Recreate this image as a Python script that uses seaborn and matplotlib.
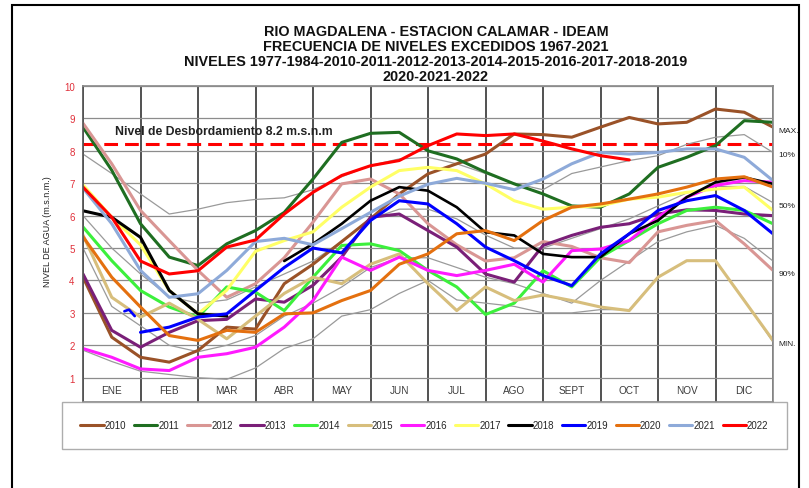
import numpy as np
import pandas as pd
import matplotlib
matplotlib.use('Agg')
import matplotlib.pyplot as plt
from matplotlib.patches import Rectangle
import seaborn as sns

# posicion en meses (0 = 1 de enero, 12 = 31 de diciembre), cada medio mes
meses_pos = np.arange(0, 12.5, 0.5)
meses = ['ENE', 'FEB', 'MAR', 'ABR', 'MAY', 'JUN', 'JUL', 'AGO', 'SEPT', 'OCT', 'NOV', 'DIC']
nan = np.nan

# niveles (m.s.n.m.)
n2010 = [4.1, 2.25, 1.63, 1.48, 1.84, 2.56, 2.5, 3.9, 4.5, 5.2, 5.9, 6.67, 7.29, 7.6, 7.9, 8.52, 8.5, 8.42, 8.73, 9.03, 8.83, 8.88, 9.29, 9.19, 8.73]
n2011 = [8.73, 7.4, 5.75, 4.72, 4.46, 5.13, 5.54, 6.1, 7.13, 8.26, 8.54, 8.57, 8.0, 7.75, 7.34, 6.98, 6.67, 6.3, 6.26, 6.67, 7.49, 7.8, 8.16, 8.93, 8.88]
n2012 = [8.85, 7.6, 6.16, 5.23, 4.31, 3.48, 3.9, 4.7, 5.8, 6.98, 7.13, 6.67, 5.75, 5.1, 4.6, 4.7, 5.2, 5.05, 4.7, 4.55, 5.5, 5.7, 5.85, 5.13, 4.31]
n2013 = [4.2, 2.46, 1.94, 2.4, 2.76, 2.8, 3.43, 3.33, 3.85, 4.72, 5.95, 6.05, 5.54, 5.03, 4.2, 3.95, 5.08, 5.39, 5.64, 5.75, 6.05, 6.18, 6.16, 6.05, 6.0]
n2014 = [5.65, 4.61, 3.69, 3.18, 2.87, 3.8, 3.64, 3.07, 4.1, 5.08, 5.13, 4.92, 4.31, 3.8, 2.95, 3.3, 4.3, 3.8, 4.72, 5.23, 5.75, 6.16, 6.26, 6.16, 5.75]
n2015 = [5.4, 3.48, 2.87, 3.3, 2.8, 2.2, 2.9, 3.6, 4.1, 3.9, 4.5, 4.82, 3.9, 3.07, 3.8, 3.38, 3.55, 3.38, 3.18, 3.07, 4.1, 4.61, 4.61, 3.38, 2.15]
n2016 = [1.9, 1.63, 1.27, 1.22, 1.63, 1.74, 1.94, 2.56, 3.38, 4.72, 4.31, 4.72, 4.31, 4.15, 4.31, 4.5, 3.95, 4.92, 4.97, 5.23, 5.95, 6.57, 6.93, 7.08, 7.03]
n2017 = [6.95, 5.95, 5.1, 3.69, 2.97, 3.7, 4.9, 5.23, 5.5, 6.26, 6.88, 7.39, 7.49, 7.39, 6.98, 6.46, 6.2, 6.26, 6.3, 6.51, 6.57, 6.72, 6.82, 6.88, 6.16]
n2018 = [6.15, 5.95, 5.33, 3.69, 2.97, 2.9, nan, 4.6, 5.13, 5.75, 6.46, 6.88, 6.77, 6.26, 5.49, 5.39, 4.82, 4.72, 4.72, 5.44, 5.85, 6.57, 7.03, 7.18, 6.98]
n2019 = [nan, nan, 2.4, 2.56, 2.87, 2.97, 3.69, 4.4, 5.0, 4.85, 5.85, 6.46, 6.36, 5.75, 5.03, 4.61, 4.15, 3.84, 4.82, 5.44, 6.16, 6.46, 6.62, 6.16, 5.44]
n2020 = [5.35, 4.1, 3.18, 2.3, 2.15, 2.46, 2.4, 2.97, 3.0, 3.38, 3.69, 4.5, 4.82, 5.44, 5.54, 5.23, 5.85, 6.26, 6.36, 6.51, 6.67, 6.88, 7.13, 7.2, 6.88]
n2021 = [6.85, 5.75, 4.31, 3.48, 3.59, 4.31, 5.2, 5.3, 5.1, 5.6, 6.1, 6.6, 6.97, 7.15, 7.0, 6.8, 7.13, 7.6, 7.95, 7.9, 7.95, 8.06, 8.06, 7.8, 7.08]
n2022 = [6.88, 5.95, 4.6, 4.2, 4.3, 5.03, 5.25, 6.05, 6.72, 7.24, 7.54, 7.7, 8.16, 8.52, 8.47, 8.52, 8.3, 8.06, 7.85, 7.72, nan, nan, nan, nan, nan]

# tramo corto de 2019 en enero
x2019_ene = [0.72, 0.8, 0.9]
n2019_ene = [3.05, 3.1, 2.9]

# curvas de frecuencia (grises)
p10 = [7.9, 7.3, 6.67, 6.05, 6.2, 6.4, 6.5, 6.55, 6.8, 7.2, 7.55, 7.75, 7.8, 7.6, 7.3, 7.0, 6.8, 7.3, 7.5, 7.7, 7.85, 8.2, 8.42, 8.5, 7.95]
p50 = [6.0, 5.0, 4.2, 3.5, 3.3, 3.4, 3.8, 4.2, 4.6, 5.2, 5.9, 6.2, 6.2, 5.9, 5.4, 5.0, 5.0, 5.3, 5.6, 5.9, 6.3, 6.7, 6.9, 6.9, 6.4]
p90 = [5.0, 3.2, 2.6, 2.0, 1.8, 2.0, 2.3, 2.9, 3.3, 3.8, 4.4, 4.7, 4.7, 4.4, 4.1, 3.9, 3.6, 3.3, 4.0, 4.6, 5.2, 5.5, 5.7, 5.3, 4.6]
pmin = [1.85, 1.5, 1.2, 1.1, 1.0, 0.95, 1.3, 1.9, 2.2, 2.9, 3.1, 3.6, 4.0, 3.4, 3.3, 3.2, 3.0, 3.0, 3.1, 3.1, 4.1, 4.6, 4.6, 3.4, 2.1]

anios = ['2010', '2011', '2012', '2013', '2014', '2015', '2016', '2017', '2018', '2019', '2020', '2021', '2022']
series = [n2010, n2011, n2012, n2013, n2014, n2015, n2016, n2017, n2018, n2019, n2020, n2021, n2022]
colores = ['#9A5228', '#1F6E21', '#D99694', '#7A1F78', '#3CF03C', '#D7BE7C', '#FF1AFF',
           '#FFFF66', '#000000', '#0000FF', '#E4700F', '#8EAAD9', '#FF0000']

etiquetas_der = ['MAX.', '10%', '50%', '90%', 'MIN.']
etiquetas_der_y = [8.62, 7.9, 6.3, 4.2, 2.05]


def plot_serie(ax, x, y, color, lw, label=None):
    df = pd.DataFrame({'mes': x, 'nivel': y})
    df['tramo'] = df['nivel'].isna().cumsum()
    df = df.dropna()
    for i, (k, g) in enumerate(df.groupby('tramo')):
        sns.lineplot(data=g, x='mes', y='nivel', color=color, lw=lw, ax=ax,
                     label=label if i == 0 else None, sort=False)


sns.set_theme(style='white')
plt.rcParams['font.family'] = ['Liberation Sans', 'DejaVu Sans']

fig = plt.figure(figsize=(8.09, 4.89), dpi=100)
ax = fig.add_axes([83 / 809, 1 - 403 / 489, 690 / 809, 316 / 489])

for p in [p10, p50, p90, pmin]:
    plot_serie(ax, meses_pos, p, '#9a9a9a', 0.9)

for anio, serie, c in zip(anios, series, colores):
    lw = 3.2 if anio == '2022' else 1.9
    plot_serie(ax, meses_pos, serie, c, lw, label=anio)
    if anio == '2019':
        plot_serie(ax, x2019_ene, n2019_ene, c, lw)

ax.axhline(8.2, color='#FF0000', lw=2.2, dashes=(4.5, 2.3), zorder=1.5)
ax.text(0.56, 8.6, 'Nivel de Desbordamiento 8.2 m.s.n.m', fontsize=8.8, fontweight='bold',
        color='#222222', va='center')

ax.set_xlim(0, 12)
ax.set_ylim(0.25, 10)
ax.set_xticks(range(13))
ax.set_xticklabels([])
ax.set_yticks(range(1, 11))
ax.tick_params(axis='both', length=0)
ax.tick_params(axis='y', labelsize=7, labelcolor='#E0303A', pad=6)
ax.grid(axis='x', color='#333333', lw=1.2)
ax.grid(axis='y', color='#8c8c8c', lw=0.9)
ax.set_axisbelow(True)
for s in ['top', 'right', 'bottom']:
    ax.spines[s].set_color('#8c8c8c')
ax.spines['left'].set_color('#555555')
ax.set_xlabel('')
ax.set_ylabel('')

for i, m in enumerate(meses):
    ax.text(i + 0.5, 0.62, m, ha='center', va='center', fontsize=7.2, color='#3a3a3a')

for t, yv in zip(etiquetas_der, etiquetas_der_y):
    ax.text(12.09, yv, t, fontsize=6, va='center', ha='left', color='#222222', clip_on=False)

fig.text(48 / 809, 1 - 232 / 489, 'NIVEL DE AGUA (m.s.n.m.)', rotation=90, fontsize=6.5,
         ha='center', va='center', color='#222222')

titulo = ['RIO MAGDALENA - ESTACION CALAMAR - IDEAM',
          'FRECUENCIA DE NIVELES EXCEDIDOS 1967-2021',
          'NIVELES 1977-1984-2010-2011-2012-2013-2014-2015-2016-2017-2018-2019',
          '2020-2021-2022']
for t, yp in zip(titulo, [32, 47, 62, 77]):
    fig.text(436 / 809, 1 - yp / 489, t, ha='center', va='center', fontsize=10.4,
             fontweight='bold', color='#111111')

handles, labels = ax.get_legend_handles_labels()
ax.get_legend().remove()
for h in handles:
    h.set_linewidth(2.2)
fig.legend(handles, labels, loc='upper left', ncol=13, mode='expand',
           bbox_to_anchor=(62 / 809, 1 - 403 / 489, 725 / 809, 0.0),
           frameon=True, fancybox=False, edgecolor='#999999', fontsize=7,
           handlelength=2.4, handletextpad=0.1, columnspacing=0.6,
           borderpad=1.9, borderaxespad=0)

fig.patches.append(Rectangle((12 / 809, -0.05), (799 - 12) / 809, 1.05 - 6 / 489,
                             transform=fig.transFigure, fill=False, edgecolor='black', lw=1.5))

fig.savefig('out.png', dpi=100)
